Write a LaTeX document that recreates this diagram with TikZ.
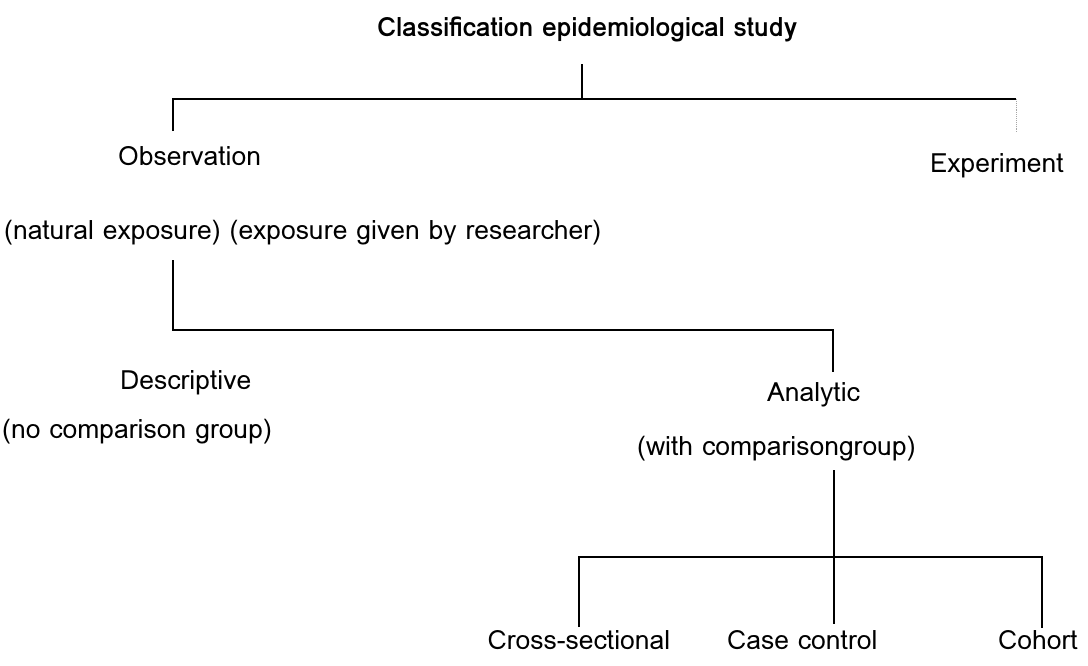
\documentclass[tikz,border=0pt]{standalone}
\usepackage{fontspec}
\setmainfont{Loma}
\begin{document}
\begin{tikzpicture}[x=1pt,y=-1pt,
  lbl/.style={inner sep=0pt, anchor=base west, font=\fontsize{26.5}{30}\selectfont},
  ttl/.style={inner sep=0pt, anchor=base west, font=\fontsize{26.5}{30}\selectfont\bfseries},
  ln/.style={line width=1.3pt, black},
  faint/.style={line width=0.9pt, gray!70, densely dotted}]
\useasboundingbox (0,0) rectangle (1088,665);
% text nodes
\node[ttl] (title) at (377,36) {Classification epidemiological study};
\node[lbl] (obs) at (118,165) {Observation};
\node[lbl] (exp) at (930,172) {Experiment};
\node[lbl] (expo) at (4,239) {(natural exposure) (exposure given by researcher)};
\node[lbl] (desc) at (120,389) {Descriptive};
\node[lbl] (nocomp) at (2,438) {(no comparison group)};
\node[lbl] (anal) at (767,401) {Analytic};
\node[lbl] (withcomp) at (637,455) {(with comparisongroup)};
\node[lbl, anchor=base] (cross) at (579,649) {Cross-sectional};
\node[lbl] (case) at (727,649) {Case control};
\node[lbl, anchor=base] (coh) at (1038,649) {Cohort};
% junction coordinates
\coordinate (t0) at (582,64);
\coordinate (t1) at (582,99);
\coordinate (tl) at (173,99);
\coordinate (tr) at (1016,99);
\coordinate (tlb) at (173,131);
\coordinate (trb) at (1016,133);
\coordinate (o0) at (173,260);
\coordinate (o1) at (173,330);
\coordinate (o2) at (833,330);
\coordinate (o3) at (833,372);
\coordinate (a0) at (834,470);
\coordinate (a1) at (834,557);
\coordinate (bl) at (579,557);
\coordinate (br) at (1042,557);
\coordinate (blb) at (579,627);
\coordinate (bmb) at (834,624);
\coordinate (brb) at (1042,628);
% connectors
\draw[ln] (t0) -- (t1);
\draw[ln] (tlb) -- (tl) -- (tr);
\draw[faint] (tr) -- (trb);
\draw[ln] (o0) -- (o1) -- (o2) -- (o3);
\draw[ln] (a0) -- (a1);
\draw[ln] (blb) -- (bl) -- (br) -- (brb);
\draw[ln] (a1) -- (bmb);
\end{tikzpicture}
\end{document}
